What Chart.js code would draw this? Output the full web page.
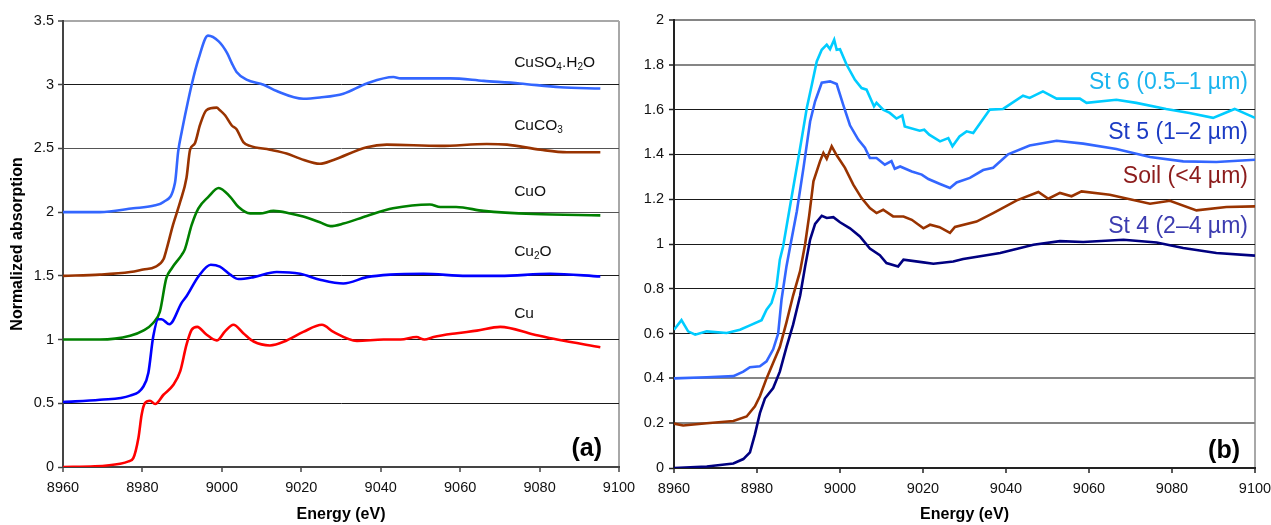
<!DOCTYPE html>
<html><head><meta charset="utf-8">
<script src="https://cdn.jsdelivr.net/npm/chart.js@4.4.1/dist/chart.umd.min.js"></script>
<style>
html,body{margin:0;padding:0;background:#fff;width:1271px;height:525px;overflow:hidden}
#wa{position:absolute;left:0;top:0;width:640px;height:525px}
#wb{position:absolute;left:640px;top:0;width:631px;height:525px}
</style></head><body>
<div id="wa"><canvas id="ca"></canvas></div>
<div id="wb"><canvas id="cb"></canvas></div>
<script>
// ---------- tick values ----------
const xTickValues = [8960, 8980, 9000, 9020, 9040, 9060, 9080, 9100];
const yTicksA = [0, 0.5, 1, 1.5, 2, 2.5, 3, 3.5];
const yTicksB = [0, 0.2, 0.4, 0.6, 0.8, 1, 1.2, 1.4, 1.6, 1.8, 2];

// ---------- panel (a): reference compounds ----------
const cuE = [8960, 8968, 8974.4, 8976.5, 8977.7, 8979, 8979.8, 8980.6, 8981.9, 8983.2, 8985.3, 8987.8, 8989.5, 8991.1, 8992.4, 8993.8, 8996.1, 8998.7, 9000.8, 9002.9, 9005.4, 9008, 9012.1, 9016.3, 9020.5, 9025.2, 9028.1, 9034, 9040.7, 9045, 9049, 9051, 9053.3, 9059.2, 9064.2, 9070.1, 9078.5, 9084.4, 9095.3];
const cuY = [0.0, 0.005, 0.026, 0.044, 0.07, 0.23, 0.41, 0.50, 0.52, 0.494, 0.567, 0.645, 0.75, 0.96, 1.077, 1.10, 1.04, 0.993, 1.064, 1.116, 1.05, 0.985, 0.954, 0.993, 1.06, 1.116, 1.06, 0.99, 1.0, 1.0, 1.02, 1.0, 1.02, 1.05, 1.07, 1.10, 1.04, 1.0, 0.94];

const cu2oE = [8960, 8969.3, 8976.9, 8980.2, 8981.5, 8982.7, 8984, 8984.8, 8986.8, 8989.9, 8991.1, 8994.1, 8997.2, 8999.5, 9002.1, 9004.2, 9008, 9013.8, 9019.7, 9024.7, 9030.6, 9036.5, 9042.4, 9050.8, 9061.7, 9070, 9082.7, 9095.3];
const cu2oY = [0.51, 0.528, 0.56, 0.63, 0.74, 1.02, 1.16, 1.16, 1.12, 1.29, 1.34, 1.495, 1.587, 1.573, 1.51, 1.475, 1.49, 1.53, 1.516, 1.47, 1.44, 1.49, 1.51, 1.516, 1.50, 1.50, 1.516, 1.495];

const cuoE = [8960, 8969.3, 8976.9, 8980.2, 8982.7, 8984.4, 8986, 8987.4, 8989.9, 8990.7, 8992.4, 8994.1, 8996.6, 8999.2, 9002.1, 9004.2, 9007.1, 9009.6, 9013, 9017.2, 9020.5, 9024.7, 9027.3, 9030.6, 9036.5, 9043.1, 9052.4, 9055, 9059, 9065.9, 9078.5, 9095.3];
const cuoY = [1.0, 1.0, 1.03, 1.07, 1.13, 1.22, 1.48, 1.56, 1.665, 1.71, 1.90, 2.03, 2.12, 2.19, 2.12, 2.04, 1.99, 1.99, 2.01, 1.99, 1.965, 1.92, 1.89, 1.91, 1.97, 2.03, 2.06, 2.04, 2.04, 2.01, 1.985, 1.975];

const cuco3E = [8960, 8969.3, 8976.9, 8980.2, 8983.2, 8985.3, 8986, 8987.7, 8989.5, 8991.1, 8992, 8993.2, 8994.5, 8996.1, 8998.7, 8999.5, 9000.8, 9002.5, 9003.7, 9005.4, 9007.1, 9012.1, 9016.3, 9019.7, 9024.7, 9028.1, 9036.5, 9041.5, 9055, 9066.7, 9071.8, 9080.2, 9086.9, 9095.3];
const cuco3Y = [1.50, 1.51, 1.53, 1.55, 1.57, 1.63, 1.70, 1.90, 2.08, 2.27, 2.49, 2.54, 2.685, 2.80, 2.82, 2.80, 2.76, 2.68, 2.65, 2.55, 2.52, 2.49, 2.46, 2.42, 2.38, 2.41, 2.51, 2.53, 2.52, 2.535, 2.53, 2.49, 2.47, 2.47];

const cuso4E = [8960, 8969.3, 8977.7, 8982.7, 8985.3, 8988.2, 8989, 8989.9, 8991.1, 8992.4, 8994.1, 8996.5, 8999.2, 9001.3, 9002.5, 9003.7, 9006.2, 9010.5, 9013.8, 9020.5, 9024.7, 9030.6, 9036.5, 9043.2, 9045, 9057.5, 9065.9, 9075, 9085.2, 9095.3];
const cuso4Y = [2.0, 2.0, 2.03, 2.05, 2.08, 2.23, 2.475, 2.63, 2.815, 3.0, 3.2, 3.385, 3.34, 3.25, 3.17, 3.10, 3.04, 3.0, 2.95, 2.89, 2.90, 2.93, 3.01, 3.06, 3.05, 3.05, 3.03, 3.01, 2.98, 2.97];

// ---------- panel (b): size fractions ----------
const st6E = [8960, 8961.8, 8963.4, 8965.1, 8967.9, 8972.7, 8975.9, 8978.3, 8981.1, 8982.3, 8983.5, 8984.7, 8985.5, 8986.3, 8988.3, 8990.4, 8992, 8993.2, 8994.4, 8995.6, 8996.8, 8997.6, 8998.6, 8999.2, 9000, 9001.6, 9003.6, 9005.2, 9006.4, 9008.2, 9008.8, 9010.4, 9012, 9013.6, 9015, 9015.6, 9019.2, 9020.3, 9021.5, 9024.1, 9026.1, 9027.1, 9028.8, 9030.5, 9032.1, 9036.1, 9039.3, 9044.1, 9045.7, 9048.9, 9052.2, 9057.8, 9059.4, 9066.6, 9071.4, 9078.6, 9084.2, 9089.9, 9095.1, 9100];
const st6Y = [0.617, 0.66, 0.61, 0.595, 0.61, 0.603, 0.617, 0.637, 0.66, 0.707, 0.737, 0.81, 0.93, 0.99, 1.205, 1.43, 1.607, 1.71, 1.815, 1.867, 1.89, 1.87, 1.912, 1.867, 1.87, 1.80, 1.733, 1.696, 1.689, 1.614, 1.63, 1.60, 1.585, 1.56, 1.574, 1.525, 1.506, 1.51, 1.488, 1.458, 1.473, 1.436, 1.48, 1.503, 1.495, 1.60, 1.603, 1.662, 1.652, 1.681, 1.649, 1.649, 1.63, 1.644, 1.63, 1.603, 1.585, 1.563, 1.603, 1.563];

const st5E = [8960, 8967.9, 8974.3, 8976.7, 8978.3, 8980.7, 8982.3, 8983.9, 8985.1, 8985.9, 8987.1, 8987.9, 8989.6, 8991.2, 8992.8, 8994, 8995.6, 8997.6, 8999.2, 9000.8, 9002.4, 9004.4, 9006, 9007.2, 9008.8, 9010.8, 9012.4, 9013.2, 9014.5, 9017.3, 9019.7, 9021.3, 9024.1, 9026.5, 9028.1, 9031.3, 9034.5, 9036.9, 9040.5, 9045.7, 9052.2, 9058.6, 9066.6, 9074.7, 9082.7, 9090.7, 9100];
const st5Y = [0.40, 0.405, 0.41, 0.43, 0.45, 0.454, 0.476, 0.53, 0.60, 0.75, 0.90, 0.98, 1.146, 1.34, 1.547, 1.637, 1.72, 1.726, 1.714, 1.62, 1.53, 1.466, 1.43, 1.384, 1.384, 1.354, 1.37, 1.336, 1.346, 1.324, 1.31, 1.29, 1.268, 1.25, 1.275, 1.295, 1.33, 1.34, 1.40, 1.44, 1.461, 1.448, 1.424, 1.388, 1.369, 1.366, 1.376];

const soilE = [8960, 8962.2, 8967.9, 8974.3, 8977.5, 8979.5, 8980.7, 8982.3, 8983.9, 8985.5, 8987.1, 8988.7, 8990.4, 8991.6, 8992.6, 8993.6, 8995.2, 8996, 8996.8, 8998, 8999.2, 9001.2, 9003.2, 9005.2, 9007.2, 9008.8, 9010.4, 9012.8, 9015.3, 9017.3, 9020.1, 9021.7, 9024, 9026.5, 9027.7, 9032.9, 9036.9, 9042.6, 9047.8, 9050.2, 9053, 9055.8, 9058.2, 9065, 9074.7, 9079.5, 9085.9, 9093.1, 9100];
const soilY = [0.198, 0.19, 0.20, 0.21, 0.23, 0.275, 0.32, 0.40, 0.47, 0.54, 0.65, 0.77, 0.88, 1.0, 1.13, 1.28, 1.37, 1.406, 1.38, 1.436, 1.396, 1.34, 1.265, 1.205, 1.16, 1.138, 1.153, 1.123, 1.123, 1.108, 1.07, 1.086, 1.075, 1.05, 1.076, 1.10, 1.138, 1.195, 1.232, 1.202, 1.228, 1.213, 1.235, 1.22, 1.18, 1.193, 1.15, 1.165, 1.168];

const st4E = [8960, 8967.9, 8974.3, 8976.7, 8978.3, 8979.5, 8980.7, 8981.9, 8983.9, 8985.5, 8987.1, 8988.7, 8990.4, 8991.6, 8992.8, 8994, 8995.6, 8996.8, 8998.4, 9000, 9002.4, 9004.8, 9007.2, 9009.6, 9011.2, 9014, 9015.3, 9020.1, 9022.5, 9027.3, 9029.7, 9038.6, 9046.6, 9053, 9058.6, 9068.3, 9076.3, 9082.7, 9090.7, 9100];
const st4Y = [0.0, 0.007, 0.02, 0.04, 0.07, 0.15, 0.245, 0.31, 0.357, 0.43, 0.54, 0.64, 0.77, 0.90, 1.02, 1.09, 1.126, 1.116, 1.12, 1.097, 1.07, 1.034, 0.98, 0.95, 0.915, 0.90, 0.93, 0.918, 0.912, 0.922, 0.933, 0.96, 0.997, 1.013, 1.009, 1.019, 1.007, 0.982, 0.96, 0.948];

// ---------- series names ----------
const namesA = ['CuSO_4.H_2O', 'CuCO_3', 'CuO', 'Cu_2O', 'Cu'];
const namesB = ['St 6 (0.5–1 µm)', 'St 5 (1–2 µm)', 'Soil (<4 µm)', 'St 4 (2–4 µm)'];

// ---------------------------------------------------------
const FONT = "'Liberation Sans', Arial, Helvetica, sans-serif";
const pts = (xs, ys) => xs.map((x, i) => ({x: x, y: ys[i]}));
const r2 = v => Math.round(v * 100) / 100;

function parseRich(text) {
  const parts = [];
  for (let i = 0; i < text.length; i++) {
    if (text[i] === '_') { parts.push({t: text[i + 1], sub: true}); i++; }
    else if (parts.length && !parts[parts.length - 1].sub) parts[parts.length - 1].t += text[i];
    else parts.push({t: text[i], sub: false});
  }
  return parts;
}
function drawRich(ctx, text, x, y, align, size, color) {
  const parts = parseRich(text);
  const subSize = Math.round(size * 0.65);
  let total = 0;
  parts.forEach(p => { ctx.font = (p.sub ? subSize : size) + 'px ' + FONT; p.w = ctx.measureText(p.t).width; total += p.w; });
  let cx = align === 'right' ? x - total : x;
  ctx.fillStyle = color; ctx.textAlign = 'left'; ctx.textBaseline = 'middle';
  parts.forEach(p => {
    ctx.font = (p.sub ? subSize : size) + 'px ' + FONT;
    ctx.fillText(p.t, cx, p.sub ? y + size * 0.3 : y);
    cx += p.w;
  });
}

const textPlugin = {
  id: 'textLabels',
  afterDatasetsDraw(chart, args, opts) {
    const {ctx, chartArea, scales} = chart;
    ctx.save();
    (opts.items || []).forEach(it => {
      drawRich(ctx, it.text, scales.x.getPixelForValue(it.x), scales.y.getPixelForValue(it.y), it.align, it.size, it.color);
    });
    if (opts.panel) {
      ctx.font = 'bold 25px ' + FONT; ctx.fillStyle = '#000';
      ctx.textAlign = 'right'; ctx.textBaseline = 'middle';
      ctx.fillText(opts.panel, chartArea.right + opts.panelDx, chartArea.bottom + opts.panelDy);
    }
    ctx.restore();
  }
};

function lineDs(label, xs, ys, color, smooth) {
  return {
    label: label, data: pts(xs, ys), borderColor: color, backgroundColor: color,
    borderWidth: 2.6, pointRadius: 0, fill: false,
    tension: smooth ? 0.4 : 0, cubicInterpolationMode: smooth ? 'monotone' : 'default'
  };
}

function makeScales(cfg) {
  return {
    x: {
      type: 'linear', min: 8960, max: 9100,
      afterBuildTicks: s => { s.ticks = xTickValues.map(v => ({value: v})); },
      afterFit: s => { s.height = cfg.xH; s.paddingLeft = 0; s.paddingRight = 0; },
      ticks: { callback: v => String(v), font: {family: FONT, size: 14.5}, color: '#111', padding: 7, maxRotation: 0, autoSkip: false },
      grid: {
        color: c => (c.tick && c.tick.value === 9100) ? '#a8a8a8' : 'rgba(0,0,0,0)',
        lineWidth: 2, tickColor: cfg.axisColor, tickLength: 5, tickWidth: 1.5
      },
      border: { color: cfg.axisColor, width: 2 },
      title: { display: true, text: 'Energy (eV)', color: '#000', font: {family: FONT, size: 16, weight: 'bold'}, padding: {top: 0, bottom: 1} }
    },
    y: {
      type: 'linear', min: 0, max: cfg.yMax,
      afterBuildTicks: s => { s.ticks = cfg.yTicks.map(v => ({value: v})); },
      afterFit: s => { s.width = cfg.yW; s.paddingTop = 0; s.paddingBottom = 0; },
      ticks: { callback: v => String(r2(v)), font: {family: FONT, size: 14.5}, color: '#111', padding: cfg.yPad },
      grid: {
        color: c => cfg.gridColor(r2(c.tick.value)),
        lineWidth: c => cfg.gridWidth(r2(c.tick.value)),
        tickColor: cfg.axisColor, tickLength: 5, tickWidth: 1.5
      },
      border: { color: cfg.axisColor, width: 2 },
      title: { display: cfg.yTitle !== '', text: cfg.yTitle, color: '#000', font: {family: FONT, size: 16, weight: 'bold'}, padding: {top: 8, bottom: 0} }
    }
  };
}

// ---------- chart (a) ----------
new Chart(document.getElementById('ca'), {
  type: 'line',
  data: { datasets: [
    lineDs(namesA[4], cuE, cuY, '#ff0000', true),
    lineDs(namesA[3], cu2oE, cu2oY, '#0000ff', true),
    lineDs(namesA[2], cuoE, cuoY, '#008000', true),
    lineDs(namesA[1], cuco3E, cuco3Y, '#993300', true),
    lineDs(namesA[0], cuso4E, cuso4Y, '#3366ff', true)
  ]},
  options: {
    responsive: true, maintainAspectRatio: false, animation: false, devicePixelRatio: 1, events: [],
    layout: { padding: {left: 0, top: 21, right: 21, bottom: 0} },
    scales: makeScales({
      xH: 58, yW: 63, yMax: 3.5, yTicks: yTicksA, yPad: 4, axisColor: '#444', yTitle: 'Normalized absorption',
      gridColor: v => v === 3.5 ? '#a8a8a8' : (v === 0 ? 'rgba(0,0,0,0)' : ((v === 2 || v === 2.5) ? '#555' : '#1a1a1a')),
      gridWidth: v => v === 3.5 ? 2 : 1
    }),
    plugins: {
      legend: {display: false}, tooltip: {enabled: false},
      textLabels: {
        items: [
          {text: namesA[0], x: 9073.6, y: 3.171, align: 'left', size: 15.5, color: '#111'},
          {text: namesA[1], x: 9073.6, y: 2.677, align: 'left', size: 15.5, color: '#111'},
          {text: namesA[2], x: 9073.6, y: 2.162, align: 'left', size: 15.5, color: '#111'},
          {text: namesA[3], x: 9073.6, y: 1.691, align: 'left', size: 15.5, color: '#111'},
          {text: namesA[4], x: 9073.6, y: 1.20, align: 'left', size: 15.5, color: '#111'}
        ],
        panel: '(a)', panelDx: -17, panelDy: -17.5
      }
    }
  },
  plugins: [textPlugin]
});

// ---------- chart (b) ----------
new Chart(document.getElementById('cb'), {
  type: 'line',
  data: { datasets: [
    lineDs(namesB[0], st6E, st6Y, '#00ccff', false),
    lineDs(namesB[1], st5E, st5Y, '#3366ff', false),
    lineDs(namesB[2], soilE, soilY, '#993300', false),
    lineDs(namesB[3], st4E, st4Y, '#000080', false)
  ]},
  options: {
    responsive: true, maintainAspectRatio: false, animation: false, devicePixelRatio: 1, events: [],
    layout: { padding: {left: 0, top: 20, right: 16, bottom: 0} },
    scales: makeScales({
      xH: 57, yW: 34, yMax: 2, yTicks: yTicksB, yPad: 5, axisColor: '#222', yTitle: '',
      gridColor: v => v === 0 ? 'rgba(0,0,0,0)' : ((v === 2 || v === 1.8 || v === 0.4 || v === 0.2) ? '#858585' : '#1a1a1a'),
      gridWidth: v => (v === 2 || v === 1.8 || v === 0.4 || v === 0.2) ? 2 : 1
    }),
    plugins: {
      legend: {display: false}, tooltip: {enabled: false},
      textLabels: {
        items: [
          {text: namesB[0], x: 9098.3, y: 1.72, align: 'right', size: 23, color: '#1ab4ee'},
          {text: namesB[1], x: 9098.3, y: 1.497, align: 'right', size: 23, color: '#1c3cc4'},
          {text: namesB[2], x: 9098.3, y: 1.30, align: 'right', size: 23, color: '#8c1c1c'},
          {text: namesB[3], x: 9098.3, y: 1.077, align: 'right', size: 23, color: '#3c3cb0'}
        ],
        panel: '(b)', panelDx: -15, panelDy: -16.5
      }
    }
  },
  plugins: [textPlugin]
});
</script>
</body></html>
